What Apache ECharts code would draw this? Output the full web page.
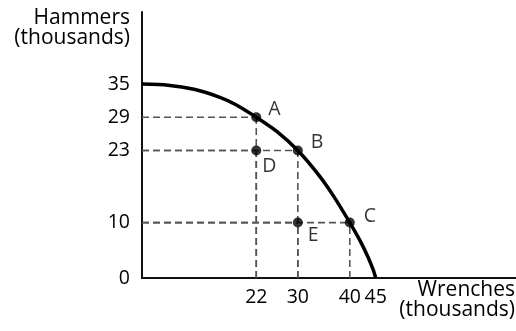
<!DOCTYPE html>
<html>
<head>
<meta charset="utf-8">
<script src="https://cdn.jsdelivr.net/npm/echarts@6/dist/echarts.min.js"></script>
<style>
html,body{margin:0;padding:0;background:#fff;}
#main{width:516px;height:331px;}
</style>
</head>
<body>
<div id="main"></div>
<script>
// production possibilities frontier, values in thousands
var curveX = [0, 5, 10, 15, 18, 22, 26, 30, 34, 37, 40, 42, 43.5, 44.5, 45];
var curveY = [35, 34.8, 34.05, 32.6, 31.3, 29, 26.4, 23, 18.6, 14.6, 10, 6.7, 3.8, 1.5, 0];

var pointNames = ['A', 'B', 'C', 'D', 'E'];
var pointX = [22, 30, 40, 22, 30];
var pointY = [29, 23, 10, 23, 10];

var xTicks = [22, 30, 40, 45];
var yTicks = [0, 10, 23, 29, 35];

var FONT = 'Open Sans';

window.onload = function(){
	var myChart = echarts.init(document.getElementById('main'));

	var curveData = [];
	for (var i = 0; i < curveX.length; i++) curveData.push([curveX[i], curveY[i]]);

	// dashed guides: point -> y axis and point -> x axis
	var guides = [];
	for (var j = 0; j < pointX.length; j++) {
		guides.push({
			type: 'line',
			silent: true,
			symbol: 'none',
			z: 1,
			lineStyle: {color: '#555', width: 1.6, type: [7, 4]},
			data: [[0, pointY[j]], [pointX[j], pointY[j]]]
		});
		guides.push({
			type: 'line',
			silent: true,
			symbol: 'none',
			z: 1,
			lineStyle: {color: '#555', width: 1.6, type: [7, 4]},
			data: [[pointX[j], 0], [pointX[j], pointY[j]]]
		});
	}

	var labelPos = {
		A: [3, -8],
		B: [4, -8],
		C: [5, -6],
		D: [-3, 16],
		E: [1, 13]
	};
	var pts = [];
	for (var k = 0; k < pointNames.length; k++) {
		pts.push({
			name: pointNames[k],
			value: [pointX[k], pointY[k]],
			label: {offset: labelPos[pointNames[k]]}
		});
	}

	myChart.setOption({
		animation: false,
		grid: {left: 142, right: 0, top: 12, bottom: 53},
		xAxis: {
			type: 'value',
			min: 0,
			max: 72,
			splitLine: {show: false},
			axisTick: {show: false},
			axisLine: {lineStyle: {color: '#111', width: 2}},
			axisLabel: {
				customValues: xTicks,
				margin: 9,
				color: '#000',
				fontFamily: FONT,
				fontSize: 19.5
			}
		},
		yAxis: {
			type: 'value',
			min: 0,
			max: 48,
			splitLine: {show: false},
			axisTick: {show: false},
			axisLine: {lineStyle: {color: '#111', width: 2}},
			axisLabel: {
				customValues: yTicks,
				margin: 12,
				color: '#000',
				fontFamily: FONT,
				fontSize: 19.5
			}
		},
		graphic: [{
			type: 'text',
			x: 130,
			y: 8,
			style: {
				text: 'Hammers\n(thousands)',
				align: 'right',
				verticalAlign: 'top',
				font: '21px "Open Sans"',
				lineHeight: 20,
				fill: '#000'
			}
		}, {
			type: 'text',
			x: 515,
			y: 280,
			style: {
				text: 'Wrenches\n(thousands)',
				align: 'right',
				verticalAlign: 'top',
				font: '21px "Open Sans"',
				lineHeight: 20,
				fill: '#000'
			}
		}],
		series: guides.concat([{
			type: 'line',
			name: 'ppf',
			smooth: 0.25,
			symbol: 'none',
			z: 3,
			lineStyle: {color: '#000', width: 3.5},
			data: curveData
		}, {
			type: 'scatter',
			name: 'points',
			z: 4,
			symbolSize: 10,
			itemStyle: {color: '#000'},
			label: {
				show: true,
				position: 'right',
				distance: 4,
				formatter: '{b}',
				color: '#000',
				fontFamily: FONT,
				fontSize: 19.5
			},
			data: pts
		}])
	});
};
</script>
</body>
</html>
